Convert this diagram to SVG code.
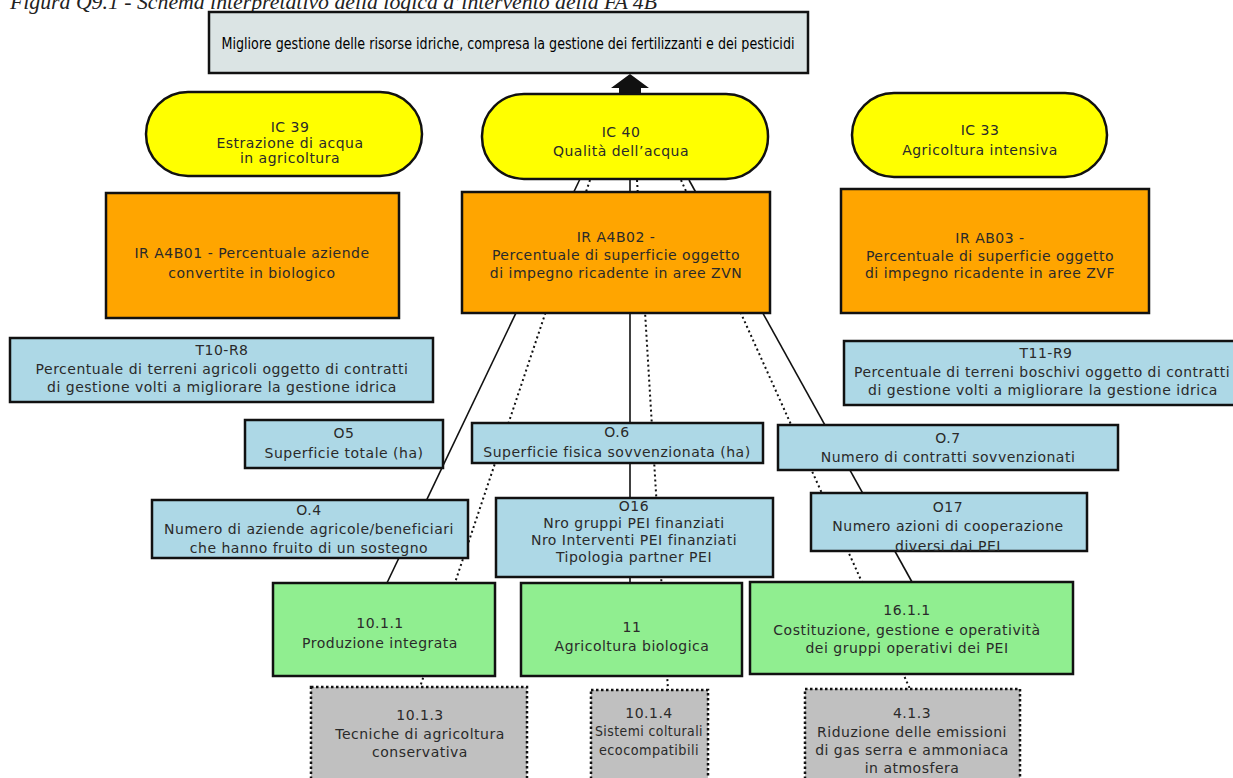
<svg xmlns="http://www.w3.org/2000/svg" width="1233" height="778" viewBox="0 0 1233 778">
  <style>
    .box { stroke: #111; stroke-width: 2.5; }
    .goal { fill: #dbe4e4; }
    .ic { fill: #ffff00; }
    .res { fill: #ffa500; }
    .ind { fill: #add8e6; }
    .meas { fill: #90ee90; }
    .sub { fill: #c0c0c0; stroke: #111; stroke-width: 2.5; stroke-dasharray: 2.5 2.5; }
    .t { font-family: "DejaVu Sans", "Liberation Sans", sans-serif; font-size: 14px; letter-spacing: 0.5px; fill: #2a2a2a; text-anchor: middle; }
    .gt { font-family: "DejaVu Sans", "Liberation Sans", sans-serif; font-size: 15px; fill: #000; text-anchor: middle; }
    .cap { font-family: "Liberation Serif", serif; font-style: italic; font-size: 21px; fill: #222; }
    .solid { stroke: #111; stroke-width: 1.6; fill: none; }
    .dot { stroke: #111; stroke-width: 2; stroke-dasharray: 2 3; fill: none; }
  </style>

  <!-- caption -->
  <text class="cap" x="10" y="9" textLength="647" lengthAdjust="spacingAndGlyphs">Figura Q9.1 - Schema interpretativo della logica d’intervento della FA 4B</text>

  <!-- links from the measures up to IC 40 and from IC 40 to the goal -->
  <g id="connectors">
    <line class="solid" x1="580" y1="179" x2="386" y2="585"/>
    <line class="dot" x1="590" y1="180" x2="420" y2="687"/>
    <line class="solid" x1="630" y1="179" x2="630" y2="583"/>
    <line class="dot" x1="637" y1="180" x2="668" y2="690"/>
    <line class="dot" x1="681" y1="180" x2="910" y2="689"/>
    <line class="solid" x1="689" y1="180" x2="912" y2="582"/>
    <polygon points="630,74 649,88 641,88 641,95 619,95 619,88 611,88" fill="#111"/>
  </g>

  <g id="goal">
    <rect class="box goal" x="209" y="12" width="599" height="61"/>
    <text class="gt" x="508" y="49" textLength="573" lengthAdjust="spacingAndGlyphs">Migliore gestione delle risorse idriche, compresa la gestione dei fertilizzanti e dei pesticidi</text>
  </g>

  <g id="ic39">
    <rect class="box ic" x="146" y="92" width="276" height="84" rx="42" ry="42"/>
    <text class="t" x="290" y="132">IC 39</text>
    <text class="t" x="290" y="148">Estrazione di acqua</text>
    <text class="t" x="290" y="163">in agricoltura</text>
  </g>

  <g id="ic40">
    <rect class="box ic" x="482" y="94" width="286" height="85" rx="42" ry="42"/>
    <text class="t" x="621" y="137">IC 40</text>
    <text class="t" x="621" y="156">Qualità dell’acqua</text>
  </g>

  <g id="ic33">
    <rect class="box ic" x="852" y="93" width="255" height="84" rx="42" ry="42"/>
    <text class="t" x="980" y="135">IC 33</text>
    <text class="t" x="980" y="155">Agricoltura intensiva</text>
  </g>

  <g id="ira4b01">
    <rect class="box res" x="106" y="193" width="293" height="125"/>
    <text class="t" x="252" y="258">IR A4B01 - Percentuale aziende</text>
    <text class="t" x="252" y="278">convertite in biologico</text>
  </g>

  <g id="ira4b02">
    <rect class="box res" x="462" y="192" width="308" height="121"/>
    <text class="t" x="616" y="242">IR A4B02 -</text>
    <text class="t" x="616" y="260">Percentuale di superficie oggetto</text>
    <text class="t" x="616" y="278">di impegno ricadente in aree ZVN</text>
  </g>

  <g id="irab03">
    <rect class="box res" x="841" y="189" width="308" height="124"/>
    <text class="t" x="990" y="243">IR AB03 -</text>
    <text class="t" x="990" y="261">Percentuale di superficie oggetto</text>
    <text class="t" x="990" y="278">di impegno ricadente in aree ZVF</text>
  </g>

  <g id="t10-r8">
    <rect class="box ind" x="10" y="338" width="423" height="64"/>
    <text class="t" x="222" y="355">T10-R8</text>
    <text class="t" x="222" y="374">Percentuale di terreni agricoli oggetto di contratti</text>
    <text class="t" x="222" y="392">di gestione volti a  migliorare la gestione idrica</text>
  </g>

  <g id="t11-r9">
    <rect class="box ind" x="844" y="341" width="400" height="64"/>
    <text class="t" x="1046" y="358">T11-R9</text>
    <text class="t" x="1042" y="377" textLength="376" lengthAdjust="spacingAndGlyphs">Percentuale di terreni boschivi oggetto di contratti</text>
    <text class="t" x="1043" y="395">di gestione  volti a  migliorare la gestione idrica</text>
  </g>

  <g id="o5">
    <rect class="box ind" x="245" y="420" width="198" height="48"/>
    <text class="t" x="344" y="438">O5</text>
    <text class="t" x="344" y="458">Superficie totale (ha)</text>
  </g>

  <g id="o6">
    <rect class="box ind" x="472" y="423" width="291" height="40"/>
    <text class="t" x="617" y="437">O.6</text>
    <text class="t" x="617" y="457">Superficie fisica sovvenzionata (ha)</text>
  </g>

  <g id="o7">
    <rect class="box ind" x="778" y="425" width="340" height="45"/>
    <text class="t" x="948" y="443">O.7</text>
    <text class="t" x="948" y="462">Numero di contratti sovvenzionati</text>
  </g>

  <g id="o4">
    <rect class="box ind" x="152" y="500" width="316" height="58"/>
    <text class="t" x="309" y="515">O.4</text>
    <text class="t" x="309" y="534">Numero di aziende agricole/beneficiari</text>
    <text class="t" x="309" y="553">che hanno fruito di un sostegno</text>
  </g>

  <g id="o16">
    <rect class="box ind" x="496" y="498" width="277" height="79"/>
    <text class="t" x="634" y="511">O16</text>
    <text class="t" x="634" y="528">Nro gruppi PEI finanziati</text>
    <text class="t" x="634" y="545">Nro Interventi PEI finanziati</text>
    <text class="t" x="634" y="562">Tipologia partner PEI</text>
  </g>

  <g id="o17">
    <rect class="box ind" x="811" y="493" width="276" height="58"/>
    <text class="t" x="948" y="512">O17</text>
    <text class="t" x="948" y="531">Numero azioni di cooperazione</text>
    <text class="t" x="948" y="551">diversi dai PEI</text>
  </g>

  <g id="m10-1-1">
    <rect class="box meas" x="273" y="583" width="222" height="93"/>
    <text class="t" x="380" y="628">10.1.1</text>
    <text class="t" x="380" y="648">Produzione integrata</text>
  </g>

  <g id="m11">
    <rect class="box meas" x="521" y="583" width="221" height="93"/>
    <text class="t" x="632" y="632">11</text>
    <text class="t" x="632" y="651">Agricoltura biologica</text>
  </g>

  <g id="m16-1-1">
    <rect class="box meas" x="750" y="582" width="323" height="92"/>
    <text class="t" x="907" y="615">16.1.1</text>
    <text class="t" x="907" y="635">Costituzione, gestione e operatività</text>
    <text class="t" x="907" y="653">dei gruppi operativi dei PEI</text>
  </g>

  <g id="m10-1-3">
    <rect class="sub" x="311" y="687" width="216" height="100"/>
    <text class="t" x="420" y="720">10.1.3</text>
    <text class="t" x="420" y="739">Tecniche di agricoltura</text>
    <text class="t" x="420" y="757">conservativa</text>
  </g>

  <g id="m10-1-4">
    <rect class="sub" x="591" y="690" width="117" height="100"/>
    <text class="t" x="649" y="718">10.1.4</text>
    <text class="t" x="649" y="736" textLength="108" lengthAdjust="spacingAndGlyphs">Sistemi colturali</text>
    <text class="t" x="649" y="755" textLength="100" lengthAdjust="spacingAndGlyphs">ecocompatibili</text>
  </g>

  <g id="m4-1-3">
    <rect class="sub" x="805" y="689" width="215" height="100"/>
    <text class="t" x="912" y="718">4.1.3</text>
    <text class="t" x="912" y="737">Riduzione delle emissioni</text>
    <text class="t" x="912" y="755">di gas serra e ammoniaca</text>
    <text class="t" x="912" y="773">in atmosfera</text>
  </g>
</svg>
